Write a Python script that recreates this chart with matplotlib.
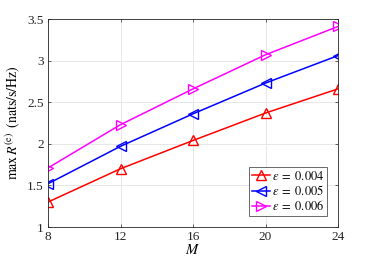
import matplotlib
matplotlib.use("Agg")
import matplotlib.pyplot as plt

plt.rcParams['font.family'] = ['Liberation Serif', 'DejaVu Serif']
plt.rcParams['mathtext.fontset'] = 'stix'

M = [8, 12, 16, 20, 24]
r_004 = [1.30, 1.70, 2.04, 2.37, 2.66]
r_005 = [1.52, 1.97, 2.36, 2.73, 3.06]
r_006 = [1.71, 2.23, 2.66, 3.07, 3.41]
labels = [r'$\epsilon\;=\;0.004$', r'$\epsilon\;=\;0.005$', r'$\epsilon\;=\;0.006$']

fig = plt.figure(figsize=(3.74, 2.63), dpi=100)
ax = fig.add_axes([48/374, 1-227/263, 290/374, 208/263])

ax.plot(M, r_004, color='red', marker='^', mfc='none', ms=6.5, mew=1.0, lw=1.1, label=labels[0])
ax.plot(M, r_005, color='blue', marker='<', mfc='none', ms=6.5, mew=1.0, lw=1.1, label=labels[1])
ax.plot(M, r_006, color='magenta', marker='>', mfc='none', ms=6.5, mew=1.0, lw=1.1, label=labels[2])

ax.set_xlim(8, 24)
ax.set_ylim(1, 3.5)
ax.set_xticks([8, 12, 16, 20, 24])
ax.set_yticks([1, 1.5, 2, 2.5, 3, 3.5])
ax.set_yticklabels(['1', '1.5', '2', '2.5', '3', '3.5'])
ax.grid(True, color='#e3e3e3', lw=0.6)
ax.set_axisbelow(True)
for s in ax.spines.values():
    s.set_color('#262626')
    s.set_linewidth(0.6)
ax.tick_params(direction='in', length=2.5, width=0.5, labelsize=9.5, colors='#262626', pad=3)
ax.tick_params(top=True, right=True)
ax.set_xlabel(r'$M$', fontsize=10.5, labelpad=0)
ax.set_ylabel(r'$\max\,R^{(\mathrm{e})}\;\;(\mathrm{nats/s/Hz})$', fontsize=10, labelpad=4)

leg = ax.legend(loc='lower right', fontsize=9, frameon=True, fancybox=False,
                edgecolor='#262626', handlelength=1.5, handletextpad=0.1,
                borderpad=0.2, labelspacing=0.1, borderaxespad=0.9)
leg.get_frame().set_linewidth(0.6)

fig.savefig('out.png', dpi=100)
